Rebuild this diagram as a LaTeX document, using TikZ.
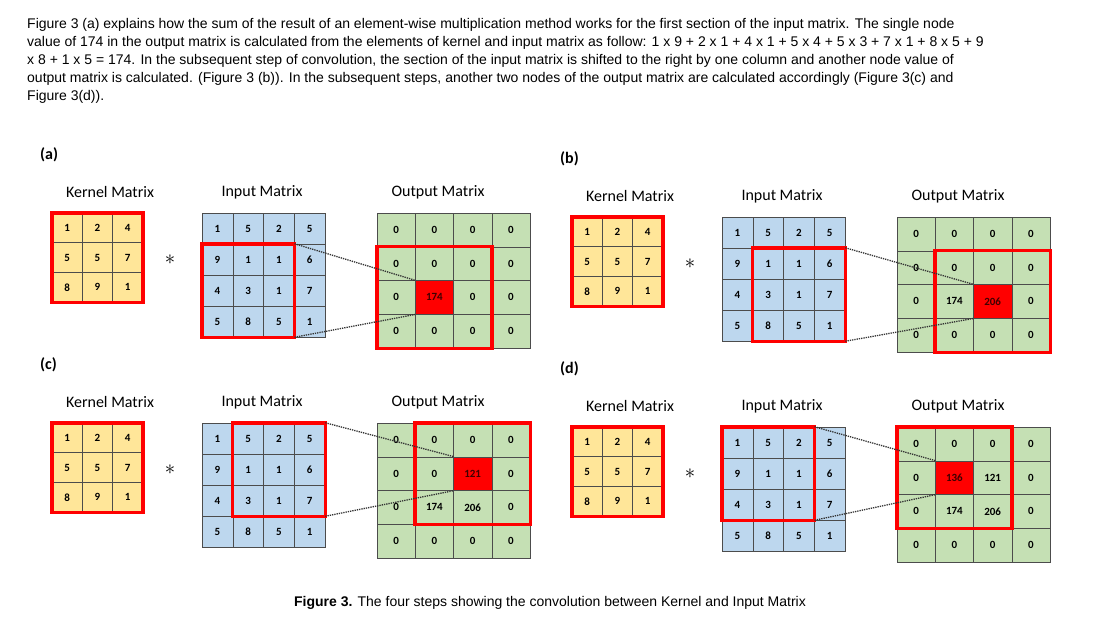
\documentclass[tikz,border=0pt]{standalone}
\usepackage{fontspec}
\setmainfont{Liberation Sans}
\newfontfamily\carl{Carlito}
\begin{document}
\begin{tikzpicture}[x=1pt,y=-1pt,
  cell/.style={draw=black!70,line width=0.5pt,inner sep=0pt,font=\carl\bfseries\fontsize{11}{11}\selectfont},
  win/.style={draw=red,line width=3.5pt},
  dots/.style={densely dotted,line width=1.3pt,black!80},
  ttl/.style={font=\carl\fontsize{16}{16}\selectfont,inner sep=0pt},
  lbl/.style={font=\carl\bfseries\fontsize{16}{16}\selectfont,inner sep=0pt,anchor=west},
  para/.style={font=\fontsize{14}{14}\selectfont,anchor=base west,inner sep=0pt}]
\fill[white] (0,0) rectangle (1102,638);
\useasboundingbox (0,0) rectangle (1102,638);
\definecolor{kc}{HTML}{FFE699}
\definecolor{ic}{HTML}{BDD7EE}
\definecolor{oc}{HTML}{C5E0B4}
\newcommand\mymat[7]{%
  \foreach \row [count=\r from 0] in {#7}{%
    \foreach \v [count=\c from 0] in \row{%
      \node[cell,fill=#6,minimum width=#4pt,minimum height=#5pt] (#1-\r-\c) at ({#2+(\c+0.5)*#4},{#3+(\r+0.5)*#5}) {\v};
    }}}
\newcommand\mypanel[9]{%
  \node[lbl] (#1-lab) at ({40+#2},{155+#3}) {#4};
  \node[ttl] (#1-tk) at ({110+#2},{192+#3}) {Kernel Matrix};
  \node[ttl] (#1-ti) at ({262+#2},{192+#3}) {Input Matrix};
  \node[ttl] (#1-to) at ({438+#2},{192+#3}) {Output Matrix};
  \mymat{#1k}{52+#2}{213+#3}{30.3}{29.7}{kc}{{1,2,4},{5,5,7},{8,9,1}}
  \draw[win] (#1k-0-0.north west) rectangle (#1k-2-2.south east);
  \node[font=\fontsize{20}{20}\selectfont,inner sep=0pt] (#1-star) at ({170+#2},{260+#3}) {$\ast$};
  \mymat{#1i}{202+#2}{213+#3}{30.75}{31}{ic}{{1,5,2,5},{9,1,1,6},{4,3,1,7},{5,8,5,1}}
  \mymat{#1o}{377+#2}{213+#3}{38.25}{33.75}{oc}{#5}
  \node[cell,fill=red,minimum width=38.25pt,minimum height=33.75pt,text=black!75!red] (#1-red) at (#1o-#8-#9) {\csname cellval#1\endcsname};
  \pgfmathtruncatemacro\rr{#6+2}\pgfmathtruncatemacro\cc{#7+2}
  \draw[win] (#1i-#6-#7.north west) rectangle (#1i-\rr-\cc.south east);
  \pgfmathtruncatemacro\ra{#8-1}\pgfmathtruncatemacro\ca{#9-1}
  \pgfmathtruncatemacro\rb{#8+1}\pgfmathtruncatemacro\cb{#9+1}
  \draw[win] (#1o-\ra-\ca.north west) rectangle (#1o-\rb-\cb.south east);
  \draw[dots] (#1i-#6-\cc.north east) -- (#1-red.north west);
  \draw[dots] (#1i-\rr-\cc.south east) -- (#1-red.south west);
}
\def\cellvala{174}\def\cellvalb{206}\def\cellvalc{121}\def\cellvald{136}
\mypanel{a}{0}{0}{(a)}{{0,0,0,0},{0,0,0,0},{0,174,0,0},{0,0,0,0}}{1}{0}{2}{1}
\mypanel{b}{520}{4}{(b)}{{0,0,0,0},{0,0,0,0},{0,174,206,0},{0,0,0,0}}{1}{1}{2}{2}
\mypanel{c}{0}{210}{(c)}{{0,0,0,0},{0,0,121,0},{0,174,206,0},{0,0,0,0}}{0}{1}{1}{2}
\mypanel{d}{520}{214}{(d)}{{0,0,0,0},{0,136,121,0},{0,174,206,0},{0,0,0,0}}{0}{0}{1}{1}
\node[para] (p1) at (27,28) {Figure 3 (a) explains how the sum of the result of an element-wise multiplication method works for the first section of the input matrix. The single node};
\node[para] (p2) at (27,46) {value of 174 in the output matrix is calculated from the elements of kernel and input matrix as follow: 1 x 9 + 2 x 1 + 4 x 1 + 5 x 4 + 5 x 3 + 7 x 1 + 8 x 5 + 9};
\node[para] (p3) at (27,64) {x 8 + 1 x 5 = 174. In the subsequent step of convolution, the section of the input matrix is shifted to the right by one column and another node value of};
\node[para] (p4) at (27,82) {output matrix is calculated. (Figure 3 (b)). In the subsequent steps, another two nodes of the output matrix are calculated accordingly (Figure 3(c) and};
\node[para] (p5) at (27,100) {Figure 3(d)).};
\node[font=\fontsize{14}{14}\selectfont,inner sep=0pt] (cap) at (550,603) {\textbf{Figure 3.} The four steps showing the convolution between Kernel and Input Matrix};
\end{tikzpicture}
\end{document}
